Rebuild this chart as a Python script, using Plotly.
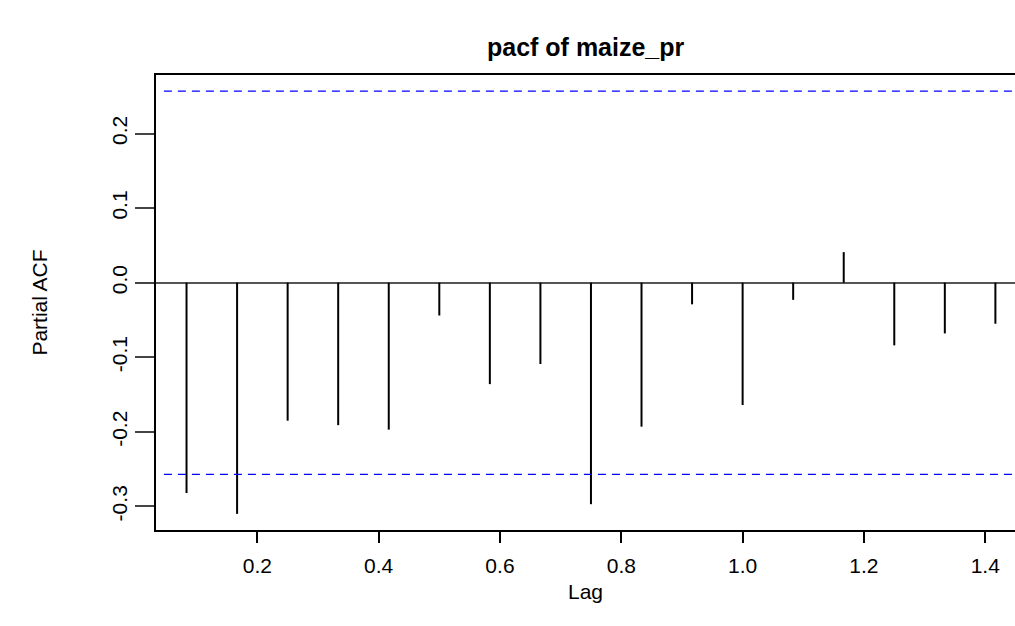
import plotly.graph_objects as go

# Lags (in years, frequency 12) and partial autocorrelations
lags = [1/12, 2/12, 3/12, 4/12, 5/12, 6/12, 7/12, 8/12, 9/12, 10/12,
        11/12, 12/12, 13/12, 14/12, 15/12, 16/12, 17/12]
pacf_vals = [-0.282, -0.310, -0.185, -0.191, -0.197, -0.044, -0.136, -0.109,
             -0.297, -0.193, -0.029, -0.164, -0.023, 0.041, -0.084, -0.068, -0.055]
ci_upper = 0.257
ci_lower = -0.257
x_ticks = [0.2, 0.4, 0.6, 0.8, 1.0, 1.2, 1.4]
x_tick_text = ["0.2", "0.4", "0.6", "0.8", "1.0", "1.2", "1.4"]
y_ticks = [-0.3, -0.2, -0.1, 0.0, 0.1, 0.2]
y_tick_text = ["-0.3", "-0.2", "-0.1", "0.0", "0.1", "0.2"]

FONT = "Liberation Sans, Arial, sans-serif"

xs, ys = [], []
for lag, v in zip(lags, pacf_vals):
    xs += [lag, lag, None]
    ys += [0, v, None]

fig = go.Figure()
fig.add_trace(go.Scatter(x=xs, y=ys, mode="lines",
                         line=dict(color="black", width=2), hoverinfo="skip",
                         showlegend=False))

x_lo, x_hi = 0.033, 1.449
for c in (ci_upper, ci_lower):
    fig.add_trace(go.Scatter(x=[0.046, x_hi], y=[c, c], mode="lines",
                             line=dict(color="blue", width=1.3, dash="8px,6px"),
                             hoverinfo="skip", showlegend=False))

fig.update_layout(
    width=1015, height=626, autosize=False,
    margin=dict(l=156, r=0, t=75, b=96),
    paper_bgcolor="white", plot_bgcolor="white",
    font=dict(family=FONT, color="black", size=18),
    title=dict(text="<b>pacf of maize_pr</b>", x=0.577, xanchor="center",
               y=1 - 47/626, yanchor="middle",
               font=dict(family=FONT, size=25, color="black")),
    xaxis=dict(range=[x_lo, x_hi], tickmode="array", tickvals=x_ticks,
               ticktext=x_tick_text, showgrid=False, zeroline=False,
               showline=True, linecolor="black", linewidth=1.5, mirror=True,
               ticks="outside", ticklen=11, tickwidth=1.5, tickcolor="black",
               tickfont=dict(size=21), ticklabelstandoff=5,
               title=dict(text="Lag", font=dict(size=21), standoff=8)),
    yaxis=dict(range=[-0.3316, 0.2785], tickmode="array", tickvals=y_ticks,
               ticktext=y_tick_text, showgrid=False,
               zeroline=True, zerolinecolor="#555555", zerolinewidth=1.5,
               showline=True, linecolor="black", linewidth=1.5, mirror=False,
               ticks="outside", ticklen=19, tickwidth=1.5, tickcolor="#444444",
               tickangle=-90, tickfont=dict(size=21),
               title=dict(text="Partial ACF", font=dict(size=21), standoff=54)),
)

fig.write_html("out.html", config={"displayModeBar": False},
               post_script="document.body.style.margin='0';")
